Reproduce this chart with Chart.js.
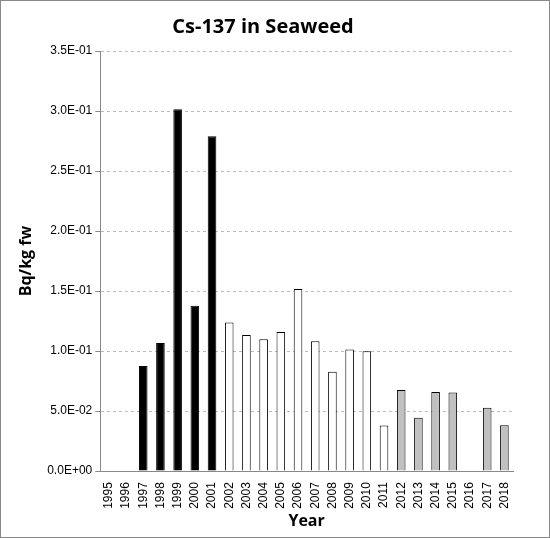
<!DOCTYPE html>
<html><head><meta charset="utf-8">
<script src="https://cdn.jsdelivr.net/npm/chart.js@4"></script>
<style>html,body{margin:0;padding:0;background:#fff}
#wrap{position:absolute;left:0;top:0;width:548px;height:536px;border:1px solid #888}
</style></head><body>
<div id="wrap"><canvas id="c" width="548" height="536"></canvas></div>
<script>
const years=["1995","1996","1997","1998","1999","2000","2001","2002","2003","2004","2005","2006","2007","2008","2009","2010","2011","2012","2013","2014","2015","2016","2017","2018"];
const values=[null,null,0.0876,0.1068,0.3015,0.1377,0.279,0.1238,0.1134,0.1098,0.1158,0.1517,0.1082,0.0827,0.1013,0.0999,0.038,0.0676,0.0444,0.066,0.0654,null,0.0528,0.0383];
const groups=["","","early","early","early","early","early","mid","mid","mid","mid","mid","mid","mid","mid","mid","mid","late","late","late","late","","late","late"];
const yTicks=[0,0.05,0.1,0.15,0.2,0.25,0.3,0.35];
const fillFor={early:"#000000",mid:"#ffffff",late:"#c0c0c0","":"#ffffff"};
new Chart(document.getElementById('c'),{type:'bar',
data:{labels:years,datasets:[{data:values,backgroundColor:groups.map(g=>fillFor[g]),borderColor:"#000",borderWidth:1,barPercentage:0.5,categoryPercentage:1}]},
options:{responsive:false,animation:false,
layout:{padding:{left:12,right:36,top:6,bottom:2}},
plugins:{legend:{display:false},tooltip:{enabled:false},
title:{display:true,text:"Cs-137 in Seaweed",color:"#000",font:{family:"Open Sans",size:20,weight:"bold"},padding:{top:8,bottom:12}}},
scales:{
x:{grid:{display:false},border:{color:"#888"},ticks:{color:"#000",font:{family:"Liberation Sans",size:12},maxRotation:90,minRotation:90,autoSkip:false},
 title:{display:true,text:"Year",color:"#000",font:{family:"Open Sans",size:16,weight:"bold"},padding:{top:0}}},
y:{min:0,max:0.35,afterBuildTicks:a=>{a.ticks=yTicks.map(v=>({value:v}))},
 grid:{color:"#bbb",drawTicks:true,tickLength:5,tickColor:"#888"},border:{color:"#888",dash:[3,3]},
 ticks:{color:"#000",font:{family:"Liberation Sans",size:12},callback:v=>{let s=Number(v).toExponential(1).toUpperCase();return s.replace(/E([+-])(\d)$/,"E$10$2");}},
 title:{display:true,text:"Bq/kg fw",color:"#000",font:{family:"Open Sans",size:16,weight:"bold"},padding:{bottom:8}}}}}
});
</script></body></html>
